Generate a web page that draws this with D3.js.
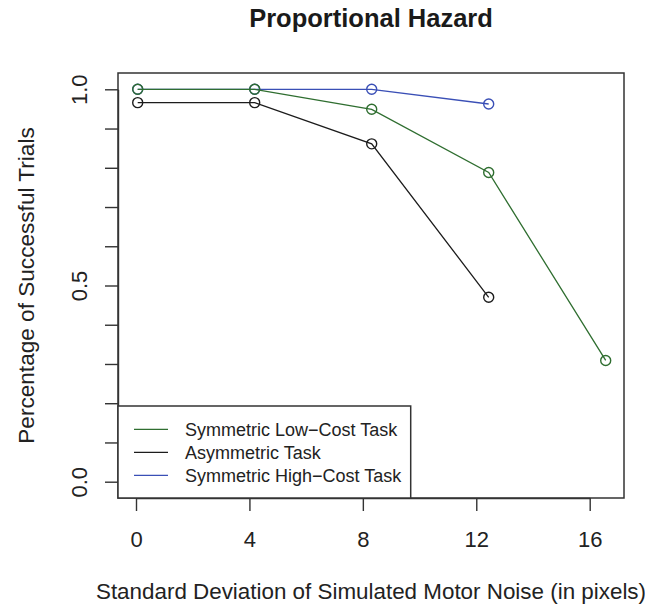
<!DOCTYPE html>
<html>
<head>
<meta charset="utf-8">
<script src="https://cdn.jsdelivr.net/npm/d3@7"></script>
<style>
  html, body { margin: 0; padding: 0; background: #fff; }
  svg { display: block; font-family: "Liberation Sans", Arial, Helvetica, sans-serif; }
</style>
</head>
<body>
<div id="chart"></div>
<script>
// Données
const noiseLevels = [0, 4, 8, 12, 16];
const lowCostTask = [1.0, 1.0, 0.949, 0.788, 0.309];
const asymmetricTask = [0.966, 0.966, 0.861, 0.470];
const highCostTask = [1.0, 1.0, 1.0, 0.9625];

const xTicks = [0, 4, 8, 12, 16];
const yTicks = [0, 0.1, 0.2, 0.3, 0.4, 0.5, 0.6, 0.7, 0.8, 0.9, 1.0];
const yLabelled = [0, 0.5, 1.0];

const seriesNames = ["Symmetric Low\u2212Cost Task", "Asymmetric Task", "Symmetric High\u2212Cost Task"];
const seriesColors = ["#2f6e30", "#1c1c1c", "#3a4fb6"];

const W = 645, H = 607;
const box = { left: 118, right: 624, top: 73, bottom: 498 };

const svg = d3.select("#chart").append("svg")
    .attr("width", W)
    .attr("height", H);

// Échelles : les points et l'axe x ne tombent pas exactement au même endroit dans l'original
const x = d3.scaleLinear().domain([0, 16]).range([137.7, 605.7]);
const xAxisScale = d3.scaleLinear().domain([0, 16]).range([136, 589.7]);
const y = d3.scaleLinear().domain([0, 1]).range([481.7, 89.3]);

// Cadre du graphique
svg.append("rect")
    .attr("x", box.left)
    .attr("y", box.top)
    .attr("width", box.right - box.left)
    .attr("height", box.bottom - box.top)
    .attr("fill", "none")
    .attr("stroke", "#333")
    .attr("stroke-width", 1.5);

// Axe x
const gx = svg.append("g")
    .attr("transform", `translate(0,${box.bottom})`)
    .call(d3.axisBottom(xAxisScale).tickValues(xTicks).tickSize(13).tickSizeOuter(0));
gx.selectAll("path, line").attr("stroke", "#333").attr("stroke-width", 1.4);
gx.selectAll("text")
    .attr("y", 49)
    .attr("dy", null)
    .attr("fill", "#222")
    .attr("font-size", "22px");

// Axe y
const gy = svg.append("g")
    .attr("transform", `translate(${box.left},0)`)
    .call(d3.axisLeft(y).tickValues(yTicks).tickSize(13).tickSizeOuter(0)
        .tickFormat(d => yLabelled.some(v => Math.abs(v - d) < 1e-9) ? d3.format(".1f")(d) : ""));
gy.selectAll("path, line").attr("stroke", "#333").attr("stroke-width", 1.4);
gy.selectAll("text")
    .attr("x", 0)
    .attr("dy", null)
    .attr("text-anchor", "middle")
    .attr("transform", "translate(-31,0) rotate(-90)")
    .attr("fill", "#222")
    .attr("font-size", "22px");

// Séries (ordre de dessin : bleu, noir, vert)
const series = [
    { values: highCostTask, color: seriesColors[2] },
    { values: asymmetricTask, color: seriesColors[1] },
    { values: lowCostTask, color: seriesColors[0] }
];

const line = d3.line()
    .x((d, i) => x(noiseLevels[i]))
    .y(d => y(d));

series.forEach(s => {
    svg.append("path")
        .datum(s.values)
        .attr("d", line)
        .attr("fill", "none")
        .attr("stroke", s.color)
        .attr("stroke-width", 1.3);

    svg.selectAll(null)
        .data(s.values)
        .enter()
        .append("circle")
        .attr("cx", (d, i) => x(noiseLevels[i]))
        .attr("cy", d => y(d))
        .attr("r", 5)
        .attr("fill", "none")
        .attr("stroke", s.color)
        .attr("stroke-width", 1.4);
});

// Légende
const legend = svg.append("g");
legend.append("rect")
    .attr("x", box.left)
    .attr("y", 406)
    .attr("width", 410.7 - box.left)
    .attr("height", box.bottom - 406)
    .attr("fill", "#fff")
    .attr("stroke", "#333")
    .attr("stroke-width", 1.5);

seriesNames.forEach((name, i) => {
    const cy = 429.3 + i * 23;
    legend.append("line")
        .attr("x1", 134)
        .attr("x2", 168)
        .attr("y1", cy)
        .attr("y2", cy)
        .attr("stroke", seriesColors[i])
        .attr("stroke-width", 1.3);
    legend.append("text")
        .attr("x", 185)
        .attr("y", cy)
        .attr("dy", "0.35em")
        .attr("font-size", "18px")
        .attr("fill", "#222")
        .text(name);
});

// Titres
svg.append("text")
    .attr("x", (box.left + box.right) / 2)
    .attr("y", 27)
    .attr("text-anchor", "middle")
    .attr("font-size", "25.5px")
    .attr("font-weight", "bold")
    .attr("fill", "#1a1a1a")
    .text("Proportional Hazard");

svg.append("text")
    .attr("x", (box.left + box.right) / 2)
    .attr("y", 599)
    .attr("text-anchor", "middle")
    .attr("font-size", "22.4px")
    .attr("fill", "#222")
    .text("Standard Deviation of Simulated Motor Noise (in pixels)");

svg.append("text")
    .attr("transform", `translate(33.5,${(y(0) + y(1)) / 2}) rotate(-90)`)
    .attr("text-anchor", "middle")
    .attr("font-size", "22.6px")
    .attr("fill", "#222")
    .text("Percentage of Successful Trials");
</script>
</body>
</html>
